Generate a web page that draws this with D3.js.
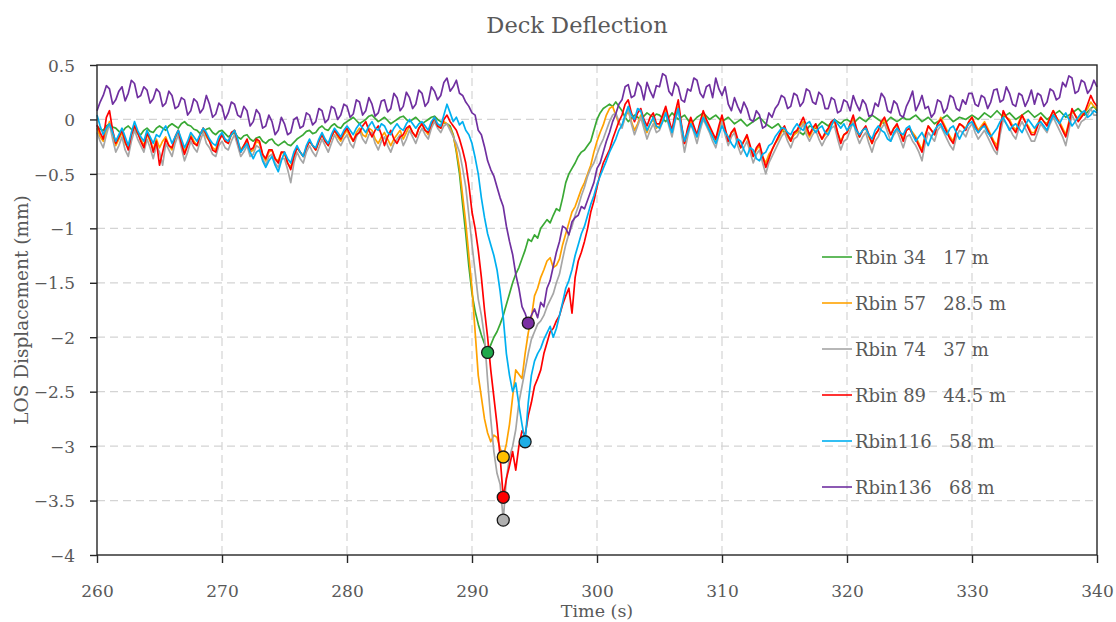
<!DOCTYPE html>
<html>
<head>
<meta charset="utf-8">
<script src="https://cdn.jsdelivr.net/npm/d3@7"></script>
<style>
  body { margin: 0; background: #fff; }
  svg text { font-family: "DejaVu Serif", serif; fill: #595959; }
</style>
</head>
<body>
<svg id="chart" width="1116" height="622"></svg>
<script>
// Sampling of the records: one value every 0.25 s from 260 s to 340 s
const timeStart = 260;
const timeStep = 0.25;

// LOS displacement (mm) per range bin, 20 samples (5 s) per row
const rbin34 = [
  -0.06, -0.09, -0.10, -0.06, -0.04, -0.07, -0.08, -0.11, -0.12, -0.08, -0.06, -0.09, -0.10, -0.13, -0.14, -0.10, -0.08, -0.11, -0.12, -0.08,
  -0.06, -0.08, -0.10, -0.06, -0.04, -0.06, -0.08, -0.04, -0.02, -0.05, -0.06, -0.09, -0.10, -0.13, -0.12, -0.09, -0.08, -0.12, -0.14, -0.11,
  -0.10, -0.13, -0.16, -0.14, -0.12, -0.16, -0.18, -0.15, -0.14, -0.18, -0.20, -0.17, -0.16, -0.20, -0.22, -0.19, -0.18, -0.22, -0.24, -0.22,
  -0.20, -0.23, -0.24, -0.21, -0.18, -0.16, -0.14, -0.11, -0.10, -0.13, -0.12, -0.08, -0.06, -0.09, -0.10, -0.06, -0.04, -0.07, -0.08, -0.04,
  -0.02, 0.00, 0.02, -0.01, -0.04, -0.02, 0.00, 0.03, 0.04, 0.01, -0.02, 0.00, 0.02, -0.01, -0.04, -0.02, 0.00, 0.02, 0.03, 0.00,
  -0.02, 0.00, 0.02, -0.01, -0.04, -0.02, 0.00, 0.02, 0.03, 0.00, -0.02, -0.03, -0.04, -0.06, -0.14, -0.30, -0.50, -0.78, -1.05, -1.35,
  -1.60, -1.76, -1.88, -1.98, -2.06, -2.14, -2.07, -2.00, -1.95, -1.88, -1.80, -1.70, -1.60, -1.50, -1.42, -1.36, -1.28, -1.20, -1.10, -1.12,
  -1.06, -1.09, -1.00, -0.96, -0.92, -0.95, -0.88, -0.82, -0.84, -0.72, -0.58, -0.50, -0.45, -0.40, -0.34, -0.30, -0.28, -0.24, -0.20, -0.10,
  0.00, 0.06, 0.10, 0.12, 0.14, 0.12, 0.16, 0.12, 0.08, 0.02, -0.02, 0.01, 0.04, 0.02, 0.00, 0.03, 0.06, 0.04, 0.02, 0.05,
  0.04, 0.01, -0.02, 0.02, 0.06, 0.03, 0.00, 0.02, 0.04, 0.00, -0.04, -0.01, 0.02, 0.04, 0.06, 0.03, 0.00, 0.02, 0.04, 0.01,
  -0.02, 0.00, 0.02, -0.01, -0.04, -0.02, 0.00, -0.03, -0.06, -0.04, -0.02, 0.00, 0.02, -0.01, -0.04, -0.06, -0.08, -0.06, -0.04, -0.08,
  -0.12, -0.15, -0.18, -0.14, -0.10, -0.12, -0.14, -0.10, -0.06, -0.07, -0.08, -0.05, -0.02, -0.04, -0.06, -0.03, 0.00, -0.02, -0.04, -0.01,
  0.00, -0.02, -0.04, -0.01, 0.02, 0.00, -0.02, 0.01, 0.04, 0.02, 0.00, -0.02, -0.04, -0.01, 0.02, 0.00, -0.02, 0.00, 0.02, 0.00,
  0.00, 0.02, 0.04, 0.01, -0.02, 0.00, 0.02, -0.01, -0.04, -0.02, 0.00, 0.02, 0.04, 0.01, -0.02, 0.00, 0.02, 0.01, 0.00, 0.02,
  0.04, 0.02, 0.00, 0.03, 0.06, 0.04, 0.02, 0.05, 0.08, 0.05, 0.02, 0.04, 0.06, 0.03, 0.00, 0.02, 0.04, 0.06, 0.08, 0.05,
  0.02, 0.04, 0.06, 0.03, 0.00, 0.02, 0.04, 0.06, 0.08, 0.05, 0.02, 0.04, 0.06, 0.08, 0.10, 0.07, 0.04, 0.07, 0.10, 0.12,
  0.08
];
const rbin57 = [
  -0.08, -0.16, -0.20, -0.10, -0.02, -0.14, -0.24, -0.18, -0.12, -0.22, -0.26, -0.14, -0.06, -0.12, -0.18, -0.24, -0.14, -0.20, -0.28, -0.18,
  -0.26, -0.20, -0.16, -0.24, -0.28, -0.18, -0.10, -0.20, -0.30, -0.22, -0.14, -0.20, -0.24, -0.14, -0.08, -0.16, -0.20, -0.26, -0.28, -0.18,
  -0.14, -0.20, -0.22, -0.14, -0.10, -0.20, -0.28, -0.24, -0.20, -0.30, -0.28, -0.20, -0.22, -0.32, -0.38, -0.30, -0.28, -0.36, -0.38, -0.30,
  -0.32, -0.40, -0.44, -0.34, -0.26, -0.30, -0.34, -0.26, -0.20, -0.24, -0.28, -0.20, -0.14, -0.20, -0.24, -0.16, -0.10, -0.16, -0.20, -0.14,
  -0.10, -0.16, -0.20, -0.12, -0.08, -0.14, -0.16, -0.08, -0.10, -0.18, -0.22, -0.16, -0.12, -0.18, -0.24, -0.18, -0.14, -0.10, -0.18, -0.12,
  -0.06, -0.12, -0.16, -0.08, -0.04, -0.10, -0.14, -0.06, 0.00, -0.06, -0.08, -0.02, -0.04, -0.08, -0.15, -0.28, -0.45, -0.70, -0.95, -1.25,
  -1.55, -1.95, -2.35, -2.55, -2.75, -2.88, -2.96, -2.90, -2.92, -3.02, -3.10, -2.98, -2.80, -2.55, -2.30, -2.34, -2.38, -2.15, -1.96, -1.82,
  -1.62, -1.55, -1.45, -1.38, -1.30, -1.27, -1.36, -1.34, -1.28, -1.15, -1.05, -0.95, -0.85, -0.80, -0.72, -0.64, -0.58, -0.50, -0.42, -0.30,
  -0.20, -0.12, -0.05, 0.04, 0.10, 0.12, 0.04, -0.04, -0.06, 0.02, 0.08, -0.02, -0.10, -0.04, 0.04, -0.06, -0.12, -0.04, 0.00, -0.08,
  -0.06, 0.02, 0.08, -0.04, -0.12, 0.02, 0.12, -0.06, -0.22, -0.10, 0.00, -0.08, -0.16, -0.04, 0.04, -0.02, -0.08, -0.14, -0.20, -0.10,
  0.00, -0.10, -0.18, -0.12, -0.10, -0.20, -0.26, -0.20, -0.16, -0.26, -0.34, -0.28, -0.24, -0.34, -0.40, -0.32, -0.28, -0.22, -0.18, -0.12,
  -0.08, -0.16, -0.20, -0.14, -0.12, -0.06, -0.02, -0.10, -0.16, -0.10, -0.06, -0.12, -0.18, -0.14, -0.10, -0.04, -0.02, -0.12, -0.20, -0.14,
  -0.12, -0.06, 0.00, -0.10, -0.16, -0.10, -0.08, -0.16, -0.22, -0.14, -0.10, -0.04, 0.00, -0.08, -0.14, -0.08, -0.06, -0.12, -0.18, -0.10,
  -0.08, -0.12, -0.16, -0.22, -0.28, -0.14, -0.06, -0.10, -0.14, -0.04, 0.02, -0.04, -0.10, -0.16, -0.20, -0.10, -0.04, -0.06, -0.08, -0.02,
  0.02, -0.04, -0.10, -0.06, -0.02, -0.08, -0.14, -0.20, -0.24, -0.08, 0.06, 0.02, 0.00, -0.06, -0.10, -0.02, 0.04, -0.02, -0.06, -0.12,
  -0.12, -0.04, 0.02, -0.02, -0.04, 0.02, 0.08, 0.02, -0.02, -0.08, -0.14, -0.02, 0.08, 0.04, 0.00, 0.04, 0.06, 0.10, 0.16, 0.12,
  0.10
];
const rbin74 = [
  -0.12, -0.20, -0.26, -0.14, -0.04, -0.18, -0.30, -0.24, -0.16, -0.28, -0.34, -0.20, -0.10, -0.18, -0.24, -0.30, -0.18, -0.26, -0.36, -0.24,
  -0.30, -0.42, -0.22, -0.28, -0.34, -0.22, -0.14, -0.26, -0.38, -0.30, -0.20, -0.26, -0.30, -0.20, -0.12, -0.22, -0.26, -0.32, -0.34, -0.24,
  -0.20, -0.26, -0.28, -0.20, -0.14, -0.24, -0.34, -0.30, -0.24, -0.34, -0.32, -0.24, -0.26, -0.36, -0.42, -0.34, -0.32, -0.40, -0.44, -0.36,
  -0.36, -0.46, -0.58, -0.40, -0.30, -0.36, -0.40, -0.30, -0.24, -0.30, -0.34, -0.26, -0.18, -0.24, -0.30, -0.22, -0.14, -0.20, -0.24, -0.18,
  -0.14, -0.22, -0.26, -0.16, -0.10, -0.18, -0.22, -0.14, -0.12, -0.22, -0.28, -0.20, -0.16, -0.24, -0.30, -0.22, -0.18, -0.14, -0.24, -0.18,
  -0.10, -0.16, -0.22, -0.14, -0.08, -0.14, -0.18, -0.08, -0.02, -0.08, -0.12, -0.06, -0.04, -0.10, -0.16, -0.22, -0.30, -0.45, -0.62, -0.88,
  -1.15, -1.40, -1.65, -1.80, -2.00, -2.40, -2.75, -3.05, -3.25, -3.35, -3.68, -3.30, -3.10, -3.00, -2.85, -2.60, -2.45, -2.30, -2.15, -2.02,
  -1.95, -1.88, -1.85, -1.80, -1.72, -1.66, -1.60, -1.50, -1.42, -1.28, -1.15, -1.05, -0.98, -0.88, -0.80, -0.70, -0.62, -0.52, -0.45, -0.40,
  -0.32, -0.24, -0.18, -0.10, -0.02, 0.04, 0.06, -0.02, -0.08, 0.02, 0.10, -0.04, -0.14, -0.06, 0.02, -0.08, -0.18, -0.10, -0.04, -0.12,
  -0.10, -0.02, 0.06, -0.06, -0.16, -0.02, 0.10, -0.12, -0.30, -0.16, -0.04, -0.12, -0.22, -0.10, 0.00, -0.06, -0.12, -0.20, -0.26, -0.14,
  -0.02, -0.14, -0.24, -0.16, -0.12, -0.24, -0.32, -0.26, -0.20, -0.30, -0.40, -0.32, -0.28, -0.40, -0.50, -0.40, -0.34, -0.28, -0.22, -0.16,
  -0.12, -0.20, -0.26, -0.18, -0.16, -0.10, -0.04, -0.14, -0.20, -0.14, -0.10, -0.18, -0.24, -0.18, -0.14, -0.08, -0.06, -0.18, -0.28, -0.20,
  -0.18, -0.10, -0.02, -0.14, -0.22, -0.16, -0.12, -0.22, -0.30, -0.20, -0.16, -0.08, -0.04, -0.12, -0.20, -0.14, -0.10, -0.18, -0.26, -0.16,
  -0.14, -0.20, -0.24, -0.30, -0.38, -0.22, -0.12, -0.16, -0.20, -0.10, -0.06, -0.12, -0.18, -0.24, -0.28, -0.16, -0.10, -0.12, -0.16, -0.08,
  -0.04, -0.12, -0.18, -0.14, -0.10, -0.16, -0.22, -0.28, -0.32, -0.14, 0.00, -0.04, -0.08, -0.14, -0.18, -0.08, -0.02, -0.08, -0.14, -0.20,
  -0.20, -0.12, -0.04, -0.08, -0.12, -0.04, 0.02, -0.04, -0.10, -0.16, -0.24, -0.10, 0.04, -0.02, -0.08, -0.02, 0.00, 0.04, 0.10, 0.04,
  0.04
];
const rbin89 = [
  -0.05, -0.12, -0.18, 0.02, 0.08, -0.10, -0.22, -0.16, -0.10, -0.20, -0.28, -0.14, -0.06, -0.12, -0.20, -0.26, -0.12, -0.18, -0.30, -0.20,
  -0.42, -0.30, -0.18, -0.24, -0.26, -0.16, -0.10, -0.22, -0.32, -0.24, -0.16, -0.22, -0.24, -0.14, -0.08, -0.14, -0.20, -0.28, -0.30, -0.20,
  -0.14, -0.20, -0.22, -0.12, -0.10, -0.20, -0.30, -0.24, -0.18, -0.28, -0.26, -0.18, -0.20, -0.32, -0.36, -0.28, -0.28, -0.36, -0.40, -0.30,
  -0.30, -0.40, -0.46, -0.34, -0.26, -0.30, -0.34, -0.26, -0.20, -0.24, -0.28, -0.20, -0.14, -0.20, -0.24, -0.16, -0.10, -0.14, -0.18, -0.12,
  -0.08, -0.14, -0.20, -0.14, -0.12, -0.06, -0.02, -0.10, -0.16, -0.10, -0.06, -0.14, -0.24, -0.16, -0.10, -0.18, -0.22, -0.16, -0.14, -0.08,
  -0.06, -0.12, -0.16, -0.08, -0.04, -0.10, -0.12, -0.04, 0.02, -0.06, -0.08, 0.00, 0.04, -0.02, -0.06, -0.10, -0.18, -0.28, -0.40, -0.60,
  -0.85, -1.00, -1.20, -1.45, -1.75, -2.00, -2.30, -2.55, -2.80, -3.10, -3.47, -3.30, -3.18, -3.05, -3.22, -3.00, -2.86, -2.90, -2.72, -2.60,
  -2.45, -2.38, -2.30, -2.15, -2.05, -1.95, -1.92, -1.85, -1.80, -1.70, -1.62, -1.55, -1.78, -1.45, -1.30, -1.22, -1.12, -1.00, -0.85, -0.75,
  -0.62, -0.50, -0.40, -0.34, -0.28, -0.18, -0.10, -0.02, 0.04, 0.14, 0.18, 0.06, -0.02, 0.06, 0.10, 0.00, -0.06, 0.02, 0.06, -0.04,
  -0.04, 0.04, 0.12, 0.00, -0.10, 0.06, 0.18, -0.04, -0.22, -0.08, 0.02, -0.06, -0.14, -0.02, 0.08, 0.00, -0.06, -0.12, -0.18, -0.06,
  0.04, -0.08, -0.20, -0.12, -0.08, -0.18, -0.26, -0.20, -0.14, -0.24, -0.34, -0.26, -0.22, -0.34, -0.44, -0.36, -0.28, -0.22, -0.16, -0.10,
  -0.06, -0.14, -0.20, -0.12, -0.10, -0.04, 0.02, -0.06, -0.14, -0.08, -0.04, -0.12, -0.18, -0.12, -0.08, -0.02, 0.00, -0.12, -0.22, -0.14,
  -0.12, -0.04, 0.04, -0.08, -0.16, -0.10, -0.06, -0.14, -0.22, -0.14, -0.10, -0.02, 0.02, -0.06, -0.14, -0.08, -0.04, -0.12, -0.20, -0.10,
  -0.08, -0.14, -0.18, -0.24, -0.30, -0.16, -0.06, -0.10, -0.14, -0.04, 0.00, -0.06, -0.12, -0.18, -0.22, -0.10, -0.04, -0.06, -0.10, -0.02,
  0.02, -0.06, -0.12, -0.08, -0.04, -0.10, -0.16, -0.22, -0.28, -0.08, 0.08, 0.02, -0.02, -0.08, -0.12, -0.04, 0.04, -0.02, -0.08, -0.14,
  -0.14, -0.06, 0.02, -0.02, -0.06, 0.02, 0.08, 0.02, -0.04, -0.10, -0.16, -0.04, 0.10, 0.04, -0.02, 0.02, 0.06, 0.14, 0.22, 0.16,
  0.12
];
const rbin116 = [
  0.04, -0.06, -0.14, -0.08, -0.04, -0.12, -0.20, -0.14, -0.08, -0.16, -0.24, -0.12, -0.02, -0.10, -0.16, -0.20, -0.10, -0.16, -0.22, -0.14,
  -0.16, -0.10, -0.06, -0.14, -0.22, -0.16, -0.10, -0.18, -0.26, -0.20, -0.12, -0.16, -0.20, -0.14, -0.08, -0.12, -0.18, -0.22, -0.24, -0.16,
  -0.12, -0.18, -0.20, -0.14, -0.10, -0.18, -0.30, -0.26, -0.22, -0.30, -0.36, -0.30, -0.28, -0.38, -0.44, -0.38, -0.34, -0.42, -0.48, -0.38,
  -0.30, -0.36, -0.40, -0.30, -0.24, -0.30, -0.34, -0.24, -0.18, -0.24, -0.26, -0.18, -0.12, -0.18, -0.22, -0.14, -0.08, -0.12, -0.16, -0.10,
  -0.06, -0.10, -0.14, -0.08, -0.04, -0.08, -0.12, -0.06, -0.02, -0.08, -0.10, -0.04, -0.06, -0.12, -0.14, -0.08, -0.04, -0.08, -0.10, -0.04,
  0.00, -0.04, -0.08, -0.04, -0.02, -0.06, -0.10, -0.02, 0.02, -0.04, -0.06, 0.04, 0.14, 0.06, -0.02, 0.02, -0.05, -0.02, -0.10, -0.14,
  -0.22, -0.35, -0.50, -0.72, -0.90, -1.05, -1.15, -1.25, -1.38, -1.58, -1.82, -2.15, -2.35, -2.50, -2.42, -2.62, -2.80, -2.96, -2.60, -2.35,
  -2.22, -2.15, -2.10, -2.02, -1.96, -1.90, -2.00, -1.92, -1.80, -1.68, -1.55, -1.48, -1.38, -1.25, -1.15, -1.05, -0.98, -0.88, -0.78, -0.70,
  -0.60, -0.52, -0.45, -0.38, -0.30, -0.24, -0.18, -0.10, -0.05, 0.04, 0.12, 0.04, 0.00, 0.10, 0.08, -0.02, -0.10, -0.04, 0.02, -0.06,
  -0.08, -0.02, 0.06, -0.04, -0.12, 0.00, 0.10, -0.06, -0.20, -0.12, -0.04, -0.10, -0.16, -0.06, 0.02, -0.04, -0.10, -0.16, -0.22, -0.14,
  -0.06, -0.12, -0.16, -0.22, -0.26, -0.18, -0.20, -0.28, -0.34, -0.26, -0.28, -0.36, -0.38, -0.32, -0.30, -0.24, -0.22, -0.16, -0.12, -0.08,
  -0.08, -0.12, -0.14, -0.08, -0.04, -0.08, -0.10, -0.04, -0.02, -0.08, -0.12, -0.08, -0.06, -0.12, -0.14, -0.06, 0.00, -0.04, -0.08, -0.04,
  -0.10, -0.06, -0.04, -0.10, -0.14, -0.10, -0.08, -0.14, -0.18, -0.10, -0.06, -0.10, -0.12, -0.18, -0.20, -0.12, -0.08, -0.12, -0.14, -0.08,
  -0.06, -0.14, -0.20, -0.16, -0.12, -0.18, -0.24, -0.16, -0.10, -0.06, -0.04, -0.10, -0.14, -0.08, -0.06, -0.12, -0.18, -0.12, -0.08, -0.04,
  -0.02, -0.08, -0.12, -0.08, -0.06, -0.12, -0.16, -0.12, -0.08, -0.02, 0.02, -0.04, -0.10, -0.06, -0.04, -0.08, -0.12, -0.06, 0.00, -0.04,
  -0.08, -0.04, -0.02, -0.06, -0.10, -0.02, 0.04, 0.00, -0.04, 0.02, 0.06, 0.00, -0.06, -0.02, 0.02, 0.06, 0.08, 0.02, 0.04, 0.08,
  0.06
];
const rbin136 = [
  0.08, 0.16, 0.22, 0.31, 0.28, 0.14, 0.18, 0.26, 0.30, 0.17, 0.24, 0.36, 0.33, 0.20, 0.22, 0.30, 0.27, 0.15, 0.19, 0.28,
  0.25, 0.12, 0.15, 0.26, 0.22, 0.10, 0.12, 0.20, 0.18, 0.04, 0.08, 0.19, 0.16, 0.06, 0.10, 0.22, 0.14, 0.02, 0.05, 0.15,
  0.12, 0.00, 0.06, 0.16, 0.14, 0.04, 0.02, 0.12, 0.08, -0.06, -0.02, 0.09, 0.05, -0.08, -0.06, 0.04, -0.02, -0.14, -0.10, 0.02,
  -0.04, -0.14, -0.12, 0.00, 0.02, -0.08, -0.06, 0.06, 0.04, -0.05, -0.02, 0.10, 0.08, -0.03, 0.00, 0.12, 0.10, 0.00, 0.04, 0.14,
  0.12, 0.02, 0.05, 0.18, 0.16, 0.04, 0.08, 0.20, 0.14, 0.03, 0.06, 0.17, 0.18, 0.07, 0.10, 0.24, 0.20, 0.08, 0.12, 0.25,
  0.20, 0.10, 0.14, 0.27, 0.24, 0.12, 0.16, 0.30, 0.26, 0.18, 0.22, 0.34, 0.38, 0.26, 0.30, 0.36, 0.24, 0.22, 0.16, 0.12,
  0.06, 0.04, -0.10, -0.14, -0.25, -0.38, -0.46, -0.52, -0.62, -0.72, -0.80, -0.98, -1.12, -1.24, -1.42, -1.55, -1.72, -1.78, -1.87, -1.80,
  -1.74, -1.82, -1.68, -1.72, -1.55, -1.48, -1.35, -1.22, -1.12, -0.98, -1.00, -1.06, -0.94, -0.90, -0.88, -0.80, -0.82, -0.74, -0.66, -0.58,
  -0.45, -0.40, -0.30, -0.20, -0.12, -0.02, 0.05, 0.14, 0.18, 0.30, 0.32, 0.20, 0.22, 0.34, 0.30, 0.18, 0.34, 0.26, 0.20, 0.31,
  0.30, 0.42, 0.40, 0.26, 0.22, 0.34, 0.30, 0.18, 0.16, 0.28, 0.26, 0.38, 0.36, 0.24, 0.20, 0.30, 0.32, 0.20, 0.38, 0.28,
  0.22, 0.30, 0.14, 0.08, 0.20, 0.12, 0.06, 0.16, 0.10, 0.00, -0.02, 0.08, 0.04, -0.08, -0.06, 0.06, 0.02, 0.10, 0.14, 0.22,
  0.20, 0.10, 0.12, 0.24, 0.22, 0.12, 0.16, 0.28, 0.26, 0.16, 0.14, 0.25, 0.22, 0.10, 0.10, 0.20, 0.18, 0.06, 0.08, 0.18,
  0.16, 0.08, 0.22, 0.14, 0.08, 0.18, 0.14, 0.03, 0.04, 0.15, 0.12, 0.24, 0.20, 0.08, 0.06, 0.17, 0.14, 0.04, 0.02, 0.12,
  0.18, 0.26, 0.08, 0.14, 0.22, 0.10, 0.12, 0.02, 0.06, 0.18, 0.16, 0.06, 0.10, 0.22, 0.20, 0.10, 0.08, 0.18, 0.14, 0.24,
  0.24, 0.14, 0.12, 0.22, 0.20, 0.10, 0.16, 0.27, 0.28, 0.16, 0.18, 0.30, 0.24, 0.14, 0.12, 0.24, 0.22, 0.12, 0.18, 0.27,
  0.14, 0.24, 0.22, 0.12, 0.16, 0.28, 0.26, 0.18, 0.20, 0.34, 0.30, 0.40, 0.38, 0.24, 0.26, 0.36, 0.34, 0.24, 0.28, 0.36,
  0.30
];

const seriesValues = [rbin34, rbin57, rbin74, rbin89, rbin116, rbin136];
const seriesLabels = ["Rbin 34   17 m", "Rbin 57   28.5 m", "Rbin 74   37 m",
                      "Rbin 89   44.5 m", "Rbin116   58 m", "Rbin136   68 m"];
const lineColors = ["#3aa935", "#ffa200", "#a6a6a6", "#ff0000", "#00b0f0", "#7030a0"];
const markerColors = ["#1fa84a", "#ffc000", "#b0b0b0", "#ff0000", "#1eaee6", "#7a2fa2"];

const xTickValues = [260, 270, 280, 290, 300, 310, 320, 330, 340];
const yTickValues = [0.5, 0, -0.5, -1, -1.5, -2, -2.5, -3, -3.5, -4];

const svg = d3.select("#chart");
const plot = { left: 97, right: 1097, top: 65, bottom: 555 };

const x = d3.scaleLinear().domain([260, 340]).range([plot.left, plot.right]);
const y = d3.scaleLinear().domain([-4, 0.5]).range([plot.bottom, plot.top]);

svg.append("rect").attr("width", 1116).attr("height", 622).attr("fill", "#fff");

// dashed grid
const grid = svg.append("g").attr("stroke", "#d4d4d4").attr("stroke-width", 1.2)
  .attr("stroke-dasharray", "8,5");
grid.selectAll("line.v").data(xTickValues.slice(1, -1)).join("line")
  .attr("x1", d => x(d)).attr("x2", d => x(d))
  .attr("y1", plot.top).attr("y2", plot.bottom);
grid.selectAll("line.h").data(yTickValues.slice(1, -1)).join("line")
  .attr("x1", plot.left).attr("x2", plot.right)
  .attr("y1", d => y(d)).attr("y2", d => y(d));

// series
const times = d3.range(rbin34.length).map(i => timeStart + i * timeStep);
const line = d3.line().x((d, i) => x(times[i])).y(d => y(d));
const lines = svg.append("g").attr("fill", "none").attr("stroke-width", 1.7)
  .attr("stroke-linejoin", "round");
seriesValues.forEach((vals, k) => {
  lines.append("path").attr("d", line(vals)).attr("stroke", lineColors[k]);
});

// frame
svg.append("rect").attr("x", plot.left).attr("y", plot.top)
  .attr("width", plot.right - plot.left).attr("height", plot.bottom - plot.top)
  .attr("fill", "none").attr("stroke", "#262626").attr("stroke-width", 1.4);

// axes
const xAxis = svg.append("g").attr("transform", `translate(0,${plot.bottom})`)
  .call(d3.axisBottom(x).tickValues(xTickValues).tickSize(8).tickFormat(d3.format("d")));
xAxis.select(".domain").remove();
xAxis.selectAll(".tick line").attr("stroke", "#262626").attr("stroke-width", 1.4);
xAxis.selectAll(".tick text").attr("y", 42).attr("dy", 0)
  .style("font-family", '"DejaVu Serif", serif').style("font-size", "17px").attr("fill", "#595959");

const yAxis = svg.append("g").attr("transform", `translate(${plot.left},0)`)
  .call(d3.axisLeft(y).tickValues(yTickValues).tickSize(7).tickFormat(d => d3.format("")(d)));
yAxis.select(".domain").remove();
yAxis.selectAll(".tick line").attr("stroke", "#262626").attr("stroke-width", 1.4);
yAxis.selectAll(".tick text").attr("x", -22).attr("dy", "0.36em")
  .style("font-family", '"DejaVu Serif", serif').style("font-size", "17px").attr("fill", "#595959");

// minimum markers
const markers = svg.append("g");
seriesValues.forEach((vals, k) => {
  const i = d3.minIndex(vals);
  markers.append("circle").attr("cx", x(times[i])).attr("cy", y(vals[i])).attr("r", 6)
    .attr("fill", markerColors[k]).attr("stroke", "#1a1a1a").attr("stroke-width", 1.3);
});

// legend
const legend = svg.append("g").attr("transform", "translate(822,257)");
seriesLabels.forEach((lab, k) => {
  const g = legend.append("g").attr("transform", `translate(0,${k * 46})`);
  g.append("line").attr("x1", 0).attr("x2", 30).attr("stroke", lineColors[k]).attr("stroke-width", 1.6);
  g.append("text").attr("x", 33).attr("y", 6.5).style("font-size", "18px")
    .style("white-space", "pre").text(lab);
});

// titles
svg.append("text").attr("x", 577).attr("y", 33).attr("text-anchor", "middle")
  .style("font-size", "22.5px").text("Deck Deflection");
svg.append("text").attr("x", 597).attr("y", 617).attr("text-anchor", "middle")
  .style("font-size", "17.5px").text("Time (s)");
svg.append("text").attr("transform", "translate(28,310) rotate(-90)").attr("text-anchor", "middle")
  .style("font-size", "18.5px").text("LOS Displacement (mm)");
</script>
</body>
</html>
